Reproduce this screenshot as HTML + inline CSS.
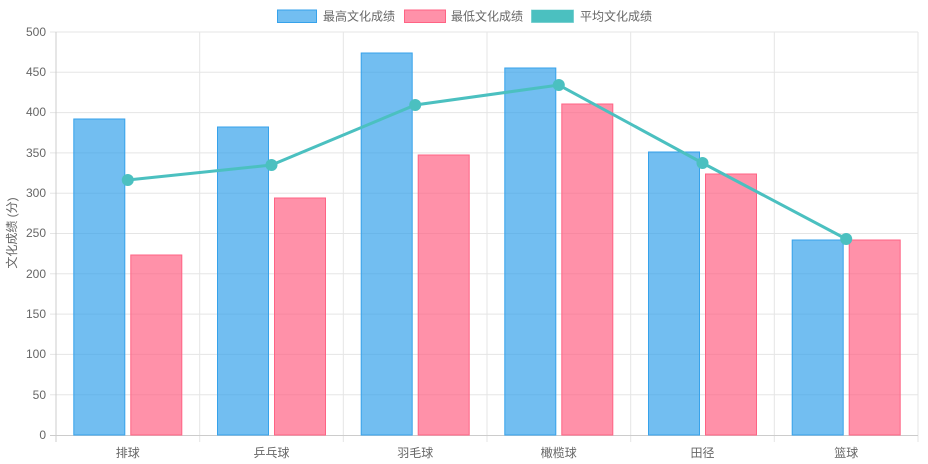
<!DOCTYPE html>
<html><head><meta charset="utf-8"><style>
html,body{margin:0;padding:0;background:#fff;}
svg{display:block;font-family:"Liberation Sans","Noto Sans CJK SC",sans-serif;}
</style></head><body>
<svg width="928" height="464" viewBox="0 0 928 464" xmlns="http://www.w3.org/2000/svg">
<g stroke="#e5e5e5" stroke-width="1">
<line x1="50" y1="394.7" x2="918" y2="394.7"/><line x1="50" y1="354.4" x2="918" y2="354.4"/>
<line x1="50" y1="314.1" x2="918" y2="314.1"/><line x1="50" y1="273.8" x2="918" y2="273.8"/>
<line x1="50" y1="233.5" x2="918" y2="233.5"/><line x1="50" y1="193.2" x2="918" y2="193.2"/>
<line x1="50" y1="152.9" x2="918" y2="152.9"/><line x1="50" y1="112.6" x2="918" y2="112.6"/>
<line x1="50" y1="72.3" x2="918" y2="72.3"/><line x1="50" y1="32" x2="918" y2="32"/>
<line x1="199.7" y1="32" x2="199.7" y2="442"/><line x1="343.3" y1="32" x2="343.3" y2="442"/>
<line x1="487" y1="32" x2="487" y2="442"/><line x1="630.7" y1="32" x2="630.7" y2="442"/>
<line x1="774.3" y1="32" x2="774.3" y2="442"/><line x1="918" y1="32" x2="918" y2="442"/>
</g>
<g stroke="#cccccc" stroke-width="1">
<line x1="56" y1="32" x2="56" y2="442"/><line x1="50" y1="435.5" x2="918" y2="435.5"/>
</g>
<g font-size="12" fill="#666" text-anchor="end">
<text x="46" y="439">0</text><text x="46" y="399">50</text><text x="46" y="358">100</text>
<text x="46" y="318">150</text><text x="46" y="278">200</text><text x="46" y="237">250</text>
<text x="46" y="197">300</text><text x="46" y="157">350</text><text x="46" y="116">400</text>
<text x="46" y="76">450</text><text x="46" y="36">500</text>
</g>
<text transform="translate(16,233) rotate(-90)" font-size="12" fill="#666" text-anchor="middle">文化成绩 (分)</text>
<g font-size="12" fill="#666" text-anchor="middle">
<text x="127.8" y="457">排球</text><text x="271.5" y="457">乒乓球</text><text x="415.2" y="457">羽毛球</text>
<text x="558.8" y="457">橄榄球</text><text x="702.5" y="457">田径</text><text x="846.2" y="457">篮球</text>
</g>
<g fill="rgba(54,162,235,0.7)" stroke="#36a2eb" stroke-width="1">
<rect x="73.8" y="119" width="51" height="316"/><rect x="217.5" y="127" width="51" height="308"/>
<rect x="361.2" y="53" width="51" height="382"/><rect x="504.8" y="68" width="51" height="367"/>
<rect x="648.5" y="152" width="51" height="283"/><rect x="792.2" y="240" width="51" height="195"/>
</g>
<g fill="rgba(255,99,132,0.7)" stroke="#ff6384" stroke-width="1">
<rect x="130.8" y="255" width="51" height="180"/><rect x="274.5" y="198" width="51" height="237"/>
<rect x="418.2" y="155" width="51" height="280"/><rect x="561.8" y="104" width="51" height="331"/>
<rect x="705.5" y="174" width="51" height="261"/><rect x="849.2" y="240" width="51" height="195"/>
</g>
<polyline points="127.8,180 271.5,165 415.2,105 558.8,85 702.5,163 846.2,239" fill="none" stroke="rgba(75,192,192,1)" stroke-width="3"/>
<g fill="rgba(75,192,192,1)">
<circle cx="127.8" cy="180" r="6"/><circle cx="271.5" cy="165" r="6"/><circle cx="415.2" cy="105" r="6"/>
<circle cx="558.8" cy="85" r="6"/><circle cx="702.5" cy="163" r="6"/><circle cx="846.2" cy="239" r="6"/>
</g>
<rect x="277.5" y="10" width="39" height="12.5" fill="rgba(54,162,235,0.7)" stroke="#36a2eb"/>
<text x="323" y="20.5" font-size="12" fill="#666">最高文化成绩</text>
<rect x="404.5" y="10" width="41" height="12.5" fill="rgba(255,99,132,0.7)" stroke="#ff6384"/>
<text x="451" y="20.5" font-size="12" fill="#666">最低文化成绩</text>
<rect x="531.5" y="10" width="42" height="12.5" fill="rgba(75,192,192,1)" stroke="rgba(75,192,192,0.5)"/>
<text x="580" y="20.5" font-size="12" fill="#666">平均文化成绩</text>
</svg>
</body></html>
